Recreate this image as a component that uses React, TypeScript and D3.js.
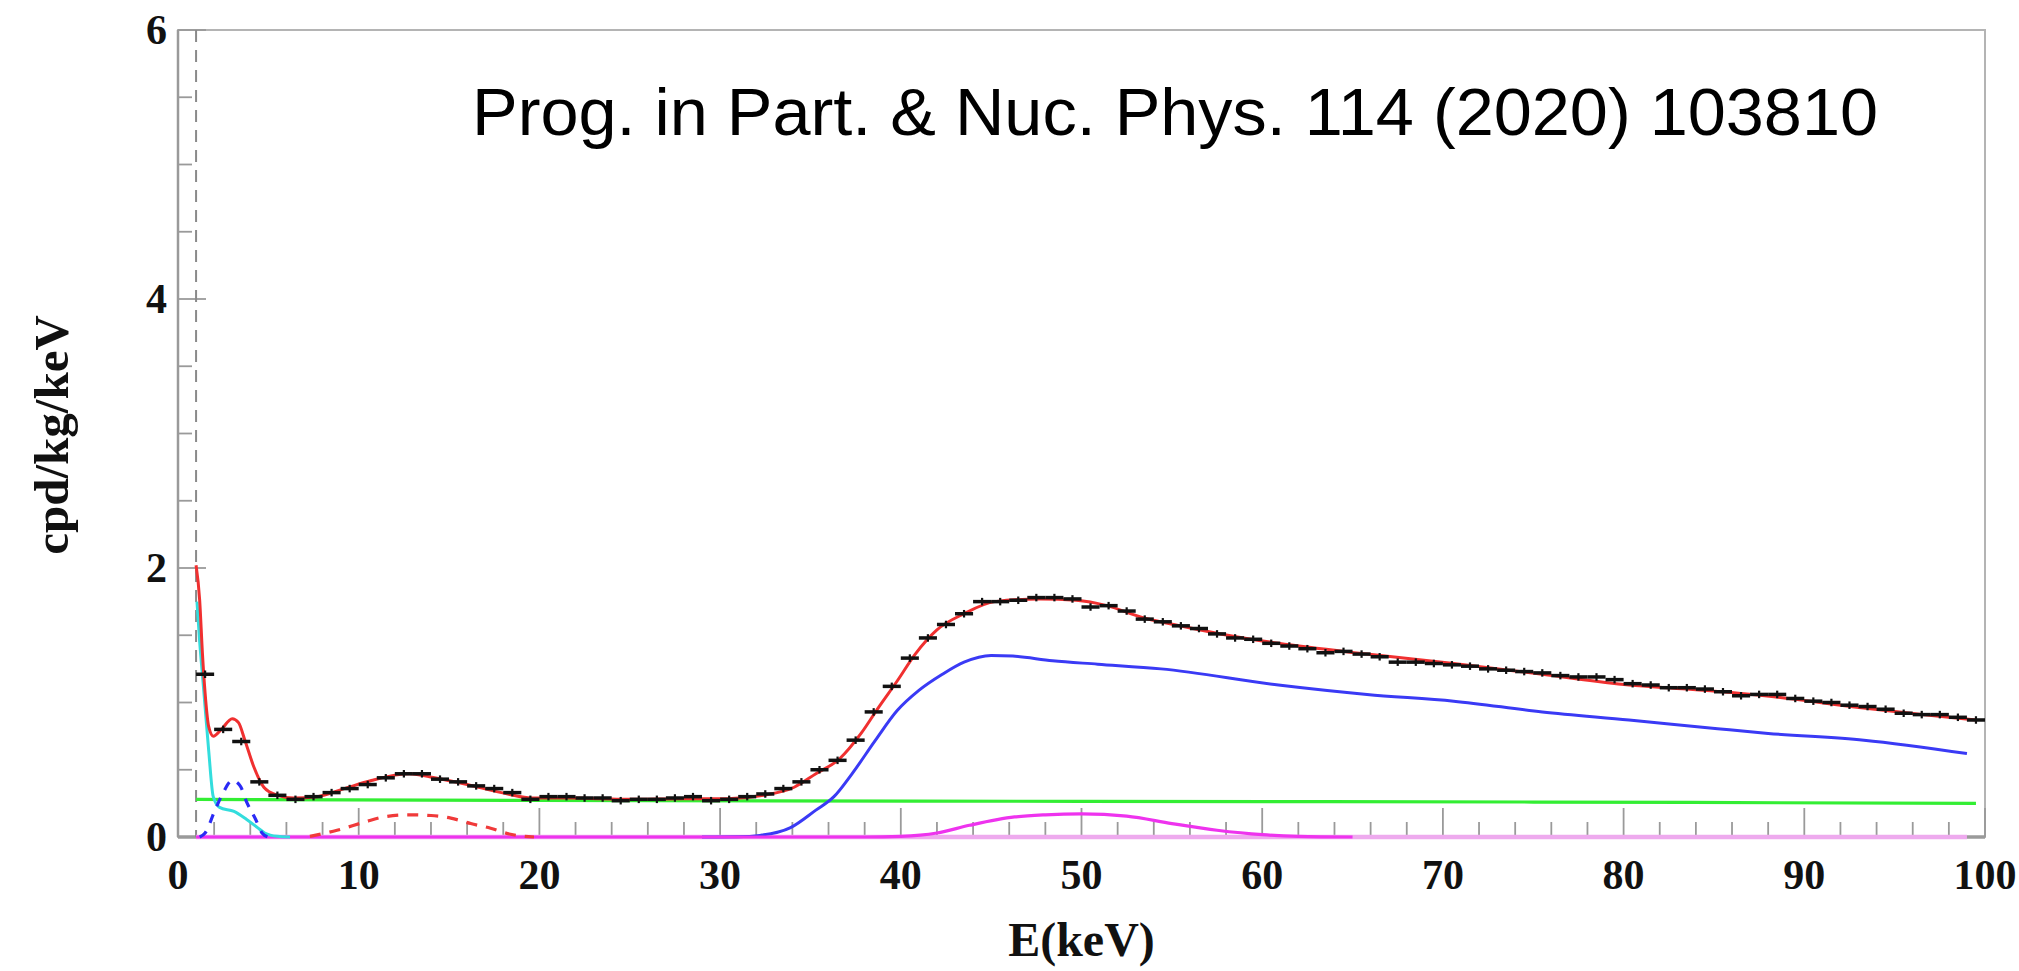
import React from 'react';
import * as d3 from 'd3';

const W = 2019;
const H = 971;

// tick labels
const xTickValues = [0, 10, 20, 30, 40, 50, 60, 70, 80, 90, 100];
const yTickValues = [0, 2, 4, 6];

// measured spectrum: one value per 1 keV bin, bins centred at 1.5 ... 99.5 keV
const dataValues = [
  1.21, 0.80, 0.71, 0.41, 0.31, 0.28, 0.30, 0.33, 0.36, 0.39,
  0.44, 0.47, 0.47, 0.43, 0.41, 0.38, 0.36, 0.33, 0.28, 0.30,
  0.30, 0.29, 0.29, 0.27, 0.28, 0.28, 0.29, 0.30, 0.27, 0.28,
  0.30, 0.32, 0.36, 0.41, 0.50, 0.57, 0.72, 0.93, 1.12, 1.33,
  1.48, 1.58, 1.66, 1.75, 1.75, 1.76, 1.78, 1.78, 1.77, 1.71,
  1.72, 1.68, 1.62, 1.60, 1.57, 1.55, 1.51, 1.48, 1.47, 1.44,
  1.42, 1.40, 1.37, 1.38, 1.36, 1.34, 1.30, 1.30, 1.29, 1.28,
  1.27, 1.25, 1.24, 1.23, 1.22, 1.20, 1.19, 1.19, 1.17, 1.14,
  1.13, 1.11, 1.11, 1.10, 1.08, 1.05, 1.06, 1.06, 1.03, 1.01,
  1.00, 0.98, 0.97, 0.95, 0.92, 0.91, 0.91, 0.89, 0.87,
];
const binStart = 1.5;

// total fit (red)
const totalFit: [number, number][] = [
  [1.0, 2.02], [1.2, 1.76], [1.35, 1.37], [1.5, 1.07], [1.7, 0.82], [1.95, 0.75],
  [2.4, 0.80], [3.0, 0.88], [3.35, 0.85], [3.7, 0.72], [4.2, 0.52], [4.75, 0.37],
  [5.5, 0.31], [6.4, 0.29], [7.7, 0.30], [9.2, 0.36], [10.7, 0.42], [12.0, 0.46],
  [12.8, 0.47], [14.2, 0.44], [16.0, 0.39], [17.9, 0.33], [19.6, 0.29], [21.6, 0.29],
  [23.4, 0.285], [25, 0.28], [28, 0.285], [30.4, 0.285], [32.4, 0.31], [34.1, 0.37],
  [35.3, 0.47], [36.6, 0.58], [37.8, 0.77], [38.8, 0.97], [39.8, 1.16], [40.8, 1.36],
  [42.0, 1.54], [43.5, 1.66], [45.2, 1.75], [47.7, 1.77], [49.7, 1.76], [51.4, 1.72],
  [53.4, 1.63], [55.1, 1.58], [57.7, 1.51], [60.9, 1.44], [65.8, 1.36], [70.6, 1.29],
  [75.5, 1.21], [80.3, 1.13], [83.5, 1.10], [87.8, 1.05], [92.6, 0.97], [96.5, 0.91],
  [99.5, 0.87],
];

// blue solid component
const blueComp: [number, number][] = [
  [29, 0], [31, 0.002], [32.2, 0.012], [33.9, 0.07], [35.3, 0.2], [36.3, 0.3], [37.3, 0.47],
  [38.6, 0.72], [39.8, 0.94], [41.0, 1.09], [42.3, 1.21], [43.5, 1.30], [45.0, 1.35],
  [46.2, 1.345], [48.4, 1.31], [50.9, 1.285], [54.4, 1.25], [60.9, 1.13], [65.8, 1.06],
  [70.6, 1.01], [75.5, 0.93], [80.3, 0.87], [85.2, 0.805], [88.0, 0.77], [93.3, 0.72],
  [99.0, 0.62],
];

// green flat component
const greenComp: [number, number][] = [
  [1, 0.28], [20, 0.272], [50, 0.265], [75, 0.26], [99.5, 0.25],
];

// cyan component (noise tail)
const cyanComp: [number, number][] = [
  [1.05, 1.75], [1.2, 1.45], [1.4, 1.13], [1.7, 0.64], [1.95, 0.30], [2.3, 0.22],
  [3.1, 0.19], [3.8, 0.13], [4.4, 0.07], [4.8, 0.03], [5.5, 0.005], [6.2, 0],
];

// blue dashed peak (~3 keV)
const blueDashComp: [number, number][] = [
  [1.2, 0], [1.5, 0.03], [2.05, 0.2], [2.5, 0.33], [3.0, 0.42], [3.44, 0.38],
  [3.8, 0.26], [4.3, 0.13], [4.65, 0.03], [5.0, 0],
];

// red dashed peak (~13 keV)
const redDashComp: [number, number][] = [
  [7.3, 0.005], [8.8, 0.05], [10.3, 0.11], [11.4, 0.15], [12.7, 0.165], [14.0, 0.16],
  [15.1, 0.14], [16.2, 0.10], [17.3, 0.065], [18.4, 0.02], [19.7, 0],
];

// magenta peak (~49 keV)
const magentaComp: [number, number][] = [
  [1, 0], [38, 0], [40, 0.005], [42, 0.03], [43.8, 0.087], [46.3, 0.149], [48, 0.165],
  [50, 0.172], [52.5, 0.155], [55, 0.1], [57.5, 0.05], [60, 0.017], [62, 0.005], [65, 0],
];

// pale violet baseline component
const paleComp: [number, number][] = [[1, 0], [99, 0]];

const X0 = 178, X1 = 1985, Y0 = 837, Y1 = 30;

export default function App() {
  const x = d3.scaleLinear().domain([0, 100]).range([X0, X1]);
  const y = d3.scaleLinear().domain([0, 6]).range([Y0, Y1]);
  const line = d3
    .line<[number, number]>()
    .x((d) => x(d[0]))
    .y((d) => y(d[1]))
    .curve(d3.curveMonotoneX);

  const xMinor = d3.range(0, 101, 2).filter((v) => v % 10 !== 0);
  const yMinor = d3.range(0, 6.01, 0.5).filter((v) => Math.abs(v % 2) > 1e-6);

  const serif = '"Liberation Serif", "Times New Roman", serif';
  const sans = '"Liberation Sans", Arial, Helvetica, sans-serif';
  const grey = '#9a9a9a';

  return (
    <svg
      width={W}
      height={H}
      style={{ position: 'absolute', left: 0, top: 0, background: '#fff' }}
    >
      <rect x={0} y={0} width={W} height={H} fill="#fff" />
      {/* frame */}
      <rect x={X0} y={Y1} width={X1 - X0} height={Y0 - Y1} fill="none" stroke="#b4b4b4" strokeWidth={2} />
      <line x1={X0} x2={X1} y1={Y0} y2={Y0} stroke={grey} strokeWidth={3.5} />
      <line x1={X0} x2={X0} y1={Y1} y2={Y0} stroke={grey} strokeWidth={2.5} />

      {/* x ticks */}
      {xTickValues.map((v) => (
        <line key={'xt' + v} x1={x(v)} x2={x(v)} y1={Y0} y2={Y0 - 29} stroke={grey} strokeWidth={1.8} />
      ))}
      {xMinor.map((v) => (
        <line key={'xm' + v} x1={x(v)} x2={x(v)} y1={Y0} y2={Y0 - 15} stroke={grey} strokeWidth={1.8} />
      ))}
      {/* y ticks */}
      {yTickValues.map((v) => (
        <line key={'yt' + v} x1={X0} x2={X0 + 28} y1={y(v)} y2={y(v)} stroke={grey} strokeWidth={1.8} />
      ))}
      {yMinor.map((v) => (
        <line key={'ym' + v} x1={X0} x2={X0 + 14} y1={y(v)} y2={y(v)} stroke={grey} strokeWidth={1.8} />
      ))}

      {/* threshold dashed line */}
      <line x1={x(1)} x2={x(1)} y1={Y1} y2={Y0} stroke="#8a8a8a" strokeWidth={2} strokeDasharray="12 8" />

      {/* components */}
      <path d={line(paleComp) || ''} fill="none" stroke="#eeaaee" strokeWidth={4.5} />
      <path d={line(greenComp) || ''} fill="none" stroke="#33ee33" strokeWidth={3.2} />
      <path d={line(blueComp) || ''} fill="none" stroke="#3a3af5" strokeWidth={3} />
      <path d={line(magentaComp) || ''} fill="none" stroke="#ee33ee" strokeWidth={3.2} />
      <path d={line(cyanComp) || ''} fill="none" stroke="#33dddd" strokeWidth={3} />
      <path d={line(blueDashComp) || ''} fill="none" stroke="#2a2af5" strokeWidth={3.2} strokeDasharray="9 9" />
      <path d={line(redDashComp) || ''} fill="none" stroke="#f03a3a" strokeWidth={3.2} strokeDasharray="11 9" />
      <path d={line(totalFit) || ''} fill="none" stroke="#f03030" strokeWidth={3} />

      {/* data points */}
      {dataValues.map((v, i) => {
        const e = binStart + i;
        return (
          <g key={'d' + i}>
            <line x1={x(e - 0.5)} x2={x(e + 0.5)} y1={y(v)} y2={y(v)} stroke="#111" strokeWidth={3.5} />
            <line x1={x(e)} x2={x(e)} y1={y(v + 0.028)} y2={y(v - 0.028)} stroke="#111" strokeWidth={2.2} />
          </g>
        );
      })}

      {/* tick labels */}
      {xTickValues.map((v) => (
        <text
          key={'xl' + v}
          x={x(v)}
          y={889}
          textAnchor="middle"
          fontFamily={serif}
          fontWeight="bold"
          fontSize={42}
          fill="#111"
        >
          {String(v)}
        </text>
      ))}
      {yTickValues.map((v) => (
        <text
          key={'yl' + v}
          x={167}
          y={y(v) + 14}
          textAnchor="end"
          fontFamily={serif}
          fontWeight="bold"
          fontSize={42}
          fill="#111"
        >
          {String(v)}
        </text>
      ))}

      {/* axis titles */}
      <text
        x={x(50)}
        y={956}
        textAnchor="middle"
        fontFamily={serif}
        fontWeight="bold"
        fontSize={48}
        fill="#111"
      >
        E(keV)
      </text>
      <text
        transform={`translate(68, 435) rotate(-90)`}
        textAnchor="middle"
        fontFamily={serif}
        fontWeight="bold"
        fontSize={49}
        fill="#111"
      >
        cpd/kg/keV
      </text>

      {/* citation */}
      <text
        x={472}
        y={135}
        fontFamily={sans}
        fontSize={67}
        fill="#000"
        textLength={1406}
        lengthAdjust="spacingAndGlyphs"
      >
        Prog. in Part. &amp; Nuc. Phys. 114 (2020) 103810
      </text>
    </svg>
  );
}
